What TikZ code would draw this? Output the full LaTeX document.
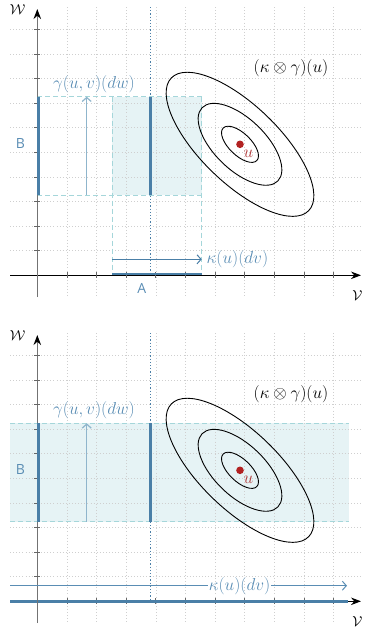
\documentclass[tikz,border=0pt]{standalone}
\usepackage{fontspec}
\newfontfamily\sanslab{Open Sans}
\usetikzlibrary{arrows.meta}
\definecolor{thickblue}{HTML}{4A7FA7}
\definecolor{labblue}{HTML}{5A8DB4}
\definecolor{lightarr}{HTML}{8FB5CC}
\definecolor{fillc}{HTML}{E6F3F5}
\definecolor{dashc}{HTML}{A5D6DA}
\definecolor{gridc}{HTML}{CFCFCF}
\definecolor{dotred}{HTML}{B22222}
\definecolor{ured}{HTML}{B03A3A}
\def\ox{37.3}
\def\oy{275.3}
\begin{document}
\begin{tikzpicture}[x=1pt,y=-1pt,
  gridl/.style={gridc,line width=0.6pt,dash pattern=on 0.9pt off 2.2pt},
  axisx/.style={black,line width=1.1pt,-{Stealth[length=10pt,width=7.5pt]}},
  axisy/.style={black!55,line width=1.5pt,-{Stealth[length=10pt,width=7.5pt,black]}},
  tickm/.style={black!60,line width=0.8pt},
  thickb/.style={thickblue,line width=2.6pt},
  dotb/.style={thickblue,line width=1.2pt,dash pattern=on 1.2pt off 2pt},
  dashb/.style={dashc,line width=0.9pt,dash pattern=on 5pt off 3pt},
  garrow/.style={lightarr,line width=1.2pt,-{Straight Barb[length=4pt,width=9pt]}},
  karrow/.style={thickblue,line width=1pt,-{Straight Barb[length=4pt,width=9pt]}},
  karrowb/.style={labblue,line width=1pt},
  lbl/.style={labblue,font=\fontsize{16.5}{19}\selectfont,inner sep=1pt},
  blk/.style={black,font=\fontsize{16.5}{19}\selectfont,inner sep=1pt},
  axl/.style={black,font=\fontsize{14}{16}\selectfont,inner sep=0pt},
  sl/.style={labblue,font=\sanslab\fontsize{14}{16}\selectfont,inner sep=0pt},
  ell/.style={black,line width=0.9pt}]
\useasboundingbox (0,0) rectangle (365,633);
% ================= TOP PANEL =================
\begin{scope}
  \fill[fillc] (112.3,96.7) rectangle (201.7,195);
  \foreach \k in {1,...,10} \draw[gridl] ({\ox+\k*29.63},7) -- ({\ox+\k*29.63},297);
  \foreach \k in {1,...,10} \draw[gridl] (10,{\oy-\k*24.6}) -- (362,{\oy-\k*24.6});
  % dashed outlines
  \draw[dashb] (37.3,96.7) -- (201.7,96.7);
  \draw[dashb] (37.3,195) -- (201.7,195);
  \draw[dashb] (112.3,96.7) -- (112.3,275.3);
  \draw[dashb] (201.7,96.7) -- (201.7,275.3);
  % axes
  \coordinate (xa0) at (10,\oy); \coordinate (xa1) at (361,\oy);
  \coordinate (ya0) at (\ox,297); \coordinate (ya1) at (\ox,9);
  \draw[axisx] (xa0) -- (xa1);
  \draw[axisy] (ya0) -- (ya1);
  \foreach \k in {1,...,10} \draw[tickm] ({\ox+\k*29.63},{\oy-3}) -- ({\ox+\k*29.63},{\oy+3});
  \foreach \k in {1,...,10} \draw[tickm] ({\ox-3},{\oy-\k*24.6}) -- ({\ox+3},{\oy-\k*24.6});
  % dotted vertical
  \coordinate (d0) at (150.7,7); \coordinate (d1) at (150.7,275);
  \draw[dotb] (d0) -- (d1);
  % thick lines
  \coordinate (b0) at (38.6,96.7); \coordinate (b1) at (38.6,195);
  \draw[thickb] (b0) -- (b1);
  \coordinate (m0) at (150.7,96.7); \coordinate (m1) at (150.7,195);
  \draw[thickb] (m0) -- (m1);
  \coordinate (a0) at (112.3,274); \coordinate (a1) at (201.7,274);
  \draw[thickb] (a0) -- (a1);
  % arrows
  \coordinate (g0) at (86.7,195); \coordinate (g1) at (86.7,96.7);
  \draw[garrow] (g0) -- (g1);
  \coordinate (k0) at (112.3,259.3); \coordinate (k1) at (201.7,259.3);
  \draw[karrow] (k0) -- (k1);
  % ellipses
  \coordinate (c) at (240,144.3);
  \foreach \a/\b in {23.4/11, 52.7/25.5, 95.5/39}
    \draw[ell, rotate around={-44:(c)}] (c) ellipse [x radius=\a, y radius=\b];
  \fill[dotred] (c) circle[radius=3.8];
  % labels
  \node[lbl] (gl) at (94,84) {$\gamma(u,v)(dw)$};
  \node[lbl,anchor=west] (kl) at (205.5,259.3) {$\kappa(u)(dv)$};
  \node[blk] (kg) at (291,68) {$(\kappa\otimes\gamma)(u)$};
  \node[ured,font=\fontsize{16.5}{19}\selectfont,inner sep=0pt] (ul) at (248.5,153.5) {$u$};
  \node[sl] (A) at (141.7,288.3) {A};
  \node[sl] (B) at (20.5,143.3) {B};
  \node[axl] (W) at (17.5,10) {$\mathcal{W}$};
  \node[axl] (V) at (357.5,296) {$\mathcal{V}$};
\end{scope}
% ================= BOTTOM PANEL =================
\begin{scope}[shift={(0,326)}]
  \fill[fillc] (10,97.3) rectangle (349,195.7);
  \foreach \k in {1,...,10} \draw[gridl] ({\ox+\k*29.63},7) -- ({\ox+\k*29.63},297);
  \foreach \k in {1,...,10} \draw[gridl] (10,{\oy-\k*24.6}) -- (362,{\oy-\k*24.6});
  \draw[dashb] (10,97.3) -- (349,97.3);
  \draw[dashb] (10,195.7) -- (349,195.7);
  % axes
  \coordinate (xb0) at (10,\oy); \coordinate (xb1) at (361,\oy);
  \coordinate (yb0) at (\ox,297); \coordinate (yb1) at (\ox,9);
  \draw[axisx] (xb0) -- (xb1);
  \foreach \k in {1,...,10} \draw[tickm] ({\ox+\k*29.63},{\oy-3}) -- ({\ox+\k*29.63},{\oy+3});
  \coordinate (ab0) at (10,\oy); \coordinate (ab1) at (348,\oy);
  \draw[thickb] (ab0) -- (ab1);
  \draw[axisy] (yb0) -- (yb1);
  \foreach \k in {1,...,10} \draw[tickm] ({\ox-3},{\oy-\k*24.6}) -- ({\ox+3},{\oy-\k*24.6});
  % dotted vertical
  \coordinate (db0) at (150.7,7); \coordinate (db1) at (150.7,275);
  \draw[dotb] (db0) -- (db1);
  % thick lines
  \coordinate (bb0) at (38.6,97.3); \coordinate (bb1) at (38.6,195.7);
  \draw[thickb] (bb0) -- (bb1);
  \coordinate (mb0) at (150.7,97.3); \coordinate (mb1) at (150.7,195.7);
  \draw[thickb] (mb0) -- (mb1);
  % arrows
  \coordinate (gb0) at (86.7,195.7); \coordinate (gb1) at (86.7,97.3);
  \draw[garrow] (gb0) -- (gb1);
  \node[lbl] (klb) at (239.5,259.7) {$\kappa(u)(dv)$};
  \coordinate (kb0) at (10,259.7); \coordinate (kb1) at (347,259.7);
  \draw[karrowb] (kb0) -- (klb.west);
  \draw[karrowb,-{Straight Barb[length=4pt,width=9pt]}] (klb.east) -- (kb1);
  % ellipses
  \coordinate (cb) at (240,144.3);
  \foreach \a/\b in {23.4/11, 52.7/25.5, 95.5/39}
    \draw[ell, rotate around={-44:(cb)}] (cb) ellipse [x radius=\a, y radius=\b];
  \fill[dotred] (cb) circle[radius=3.8];
  % labels
  \node[lbl] (glb) at (94,84) {$\gamma(u,v)(dw)$};
  \node[blk] (kgb) at (291,68) {$(\kappa\otimes\gamma)(u)$};
  \node[ured,font=\fontsize{16.5}{19}\selectfont,inner sep=0pt] (ulb) at (248.5,153.5) {$u$};
  \node[sl] (Bb) at (20.5,143.3) {B};
  \node[axl] (Wb) at (17.5,10) {$\mathcal{W}$};
  \node[axl] (Vb) at (357.5,296) {$\mathcal{V}$};
\end{scope}
\end{tikzpicture}
\end{document}
